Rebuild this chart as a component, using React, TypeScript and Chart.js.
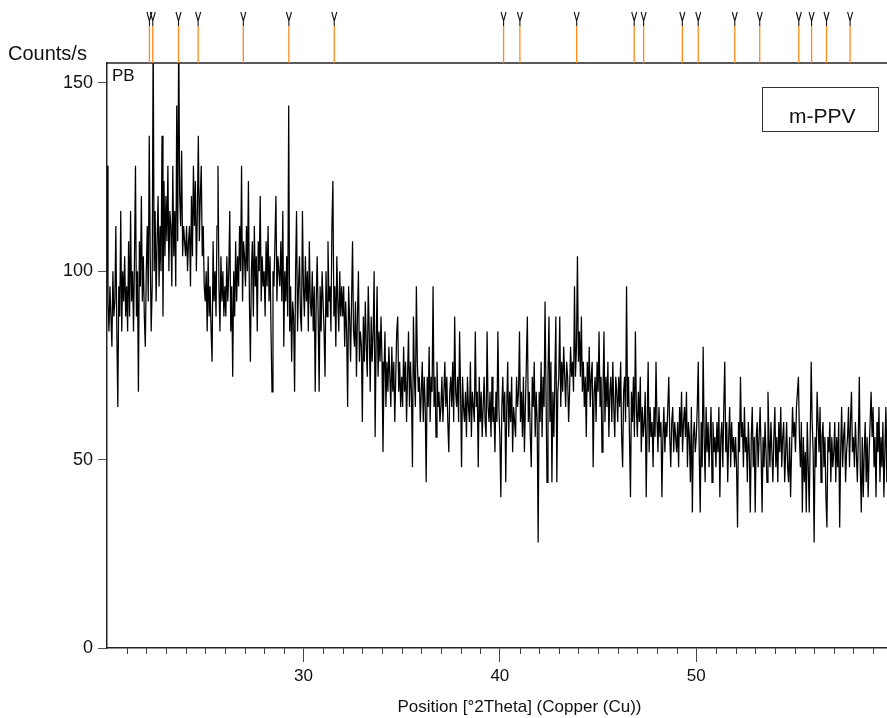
import React, { useEffect, useRef } from "react";
import { Chart, registerables } from "chart.js";

Chart.register(...registerables);

// scan grid (°2Theta)
const scanStart = 20;
const scanStep = 0.05;

// counts/s, one row per degree (20 samples each)
const counts20to30 = [
  128, 92, 84, 96, 88, 80, 100, 88, 92, 112, 84, 64, 96, 88, 116, 84, 100, 92, 104, 88,
  96, 84, 108, 88, 116, 92, 100, 84, 104, 128, 88, 100, 68, 108, 96, 120, 92, 104, 88, 80,
  100, 112, 92, 136, 104, 84, 96, 164, 100, 116, 92, 108, 120, 96, 112, 100, 136, 88, 124, 104,
  120, 108, 128, 100, 116, 112, 96, 128, 104, 116, 96, 144, 108, 164, 120, 112, 132, 104, 112, 108,
  104, 112, 100, 108, 112, 96, 120, 104, 128, 112, 124, 100, 116, 136, 108, 120, 128, 104, 112, 96,
  92, 100, 84, 104, 88, 96, 84, 76, 108, 92, 100, 88, 112, 128, 96, 84, 104, 92, 100, 88,
  96, 88, 104, 92, 100, 116, 84, 96, 72, 100, 88, 108, 92, 104, 96, 112, 100, 128, 92, 108,
  104, 96, 112, 100, 124, 92, 76, 100, 108, 88, 112, 96, 104, 84, 108, 100, 120, 92, 104, 96,
  100, 88, 108, 96, 112, 92, 104, 84, 68, 100, 96, 108, 120, 92, 104, 100, 96, 108, 92, 116,
  80, 100, 92, 104, 88, 144, 84, 96, 76, 92, 88, 68, 100, 116, 84, 96, 104, 88, 84, 116,
];
const counts30to40 = [
  96, 88, 104, 92, 100, 84, 108, 92, 88, 100, 84, 96, 68, 92, 104, 88, 68, 96, 84, 100,
  92, 84, 72, 100, 88, 108, 92, 96, 84, 112, 124, 88, 96, 80, 104, 92, 84, 100, 88, 96,
  88, 96, 80, 92, 84, 64, 96, 88, 76, 92, 108, 84, 80, 92, 72, 88, 100, 76, 84, 80,
  60, 88, 76, 92, 80, 72, 96, 84, 68, 88, 76, 84, 100, 56, 80, 96, 72, 84, 76, 88,
  76, 52, 72, 84, 64, 76, 68, 80, 72, 64, 80, 68, 76, 60, 72, 84, 88, 68, 76, 64,
  72, 64, 80, 68, 76, 60, 72, 84, 64, 76, 68, 48, 88, 72, 64, 96, 76, 68, 72, 60,
  68, 76, 60, 72, 64, 44, 72, 64, 80, 60, 72, 68, 96, 64, 72, 56, 76, 64, 68, 60,
  64, 72, 60, 68, 76, 64, 72, 60, 52, 68, 72, 64, 76, 60, 88, 68, 64, 72, 60, 84,
  68, 48, 72, 64, 60, 68, 56, 72, 64, 60, 76, 56, 68, 64, 60, 84, 64, 68, 48, 72,
  60, 68, 56, 64, 72, 60, 56, 84, 64, 60, 68, 56, 72, 60, 64, 52, 68, 60, 84, 64,
];
const counts40to50 = [
  56, 40, 64, 72, 60, 68, 44, 64, 76, 56, 68, 60, 72, 52, 64, 60, 56, 72, 64, 68,
  84, 60, 68, 56, 72, 52, 64, 76, 88, 60, 68, 56, 48, 72, 64, 76, 56, 68, 60, 28,
  68, 60, 76, 56, 72, 64, 92, 68, 44, 72, 88, 60, 76, 44, 68, 56, 72, 88, 44, 68,
  72, 88, 64, 76, 68, 80, 72, 64, 76, 72, 60, 68, 80, 72, 76, 68, 96, 72, 80, 104,
  76, 84, 72, 88, 68, 76, 64, 72, 56, 76, 68, 80, 64, 72, 76, 48, 68, 72, 60, 76,
  68, 84, 64, 72, 52, 68, 84, 60, 72, 64, 76, 56, 68, 72, 60, 76, 64, 56, 72, 68,
  60, 72, 64, 76, 56, 48, 68, 72, 60, 96, 64, 72, 56, 40, 68, 60, 72, 56, 84, 64,
  56, 68, 60, 72, 52, 64, 56, 60, 68, 40, 60, 76, 52, 64, 56, 60, 48, 64, 56, 76,
  60, 52, 64, 56, 60, 40, 56, 64, 52, 60, 56, 64, 72, 56, 48, 60, 64, 52, 60, 56,
  52, 60, 48, 64, 56, 68, 52, 60, 64, 56, 68, 48, 60, 56, 44, 64, 36, 56, 60, 52,
];
const counts50to60 = [
  56, 64, 76, 52, 36, 60, 48, 80, 56, 44, 64, 52, 60, 48, 56, 64, 44, 60, 52, 56,
  48, 60, 52, 64, 40, 56, 60, 48, 64, 76, 52, 60, 44, 56, 64, 48, 60, 52, 56, 48,
  56, 48, 32, 60, 52, 72, 56, 60, 48, 64, 52, 56, 44, 60, 52, 36, 56, 64, 48, 56,
  36, 56, 60, 48, 56, 64, 52, 36, 56, 48, 60, 52, 44, 68, 56, 48, 60, 52, 44, 56,
  64, 48, 56, 44, 60, 52, 64, 48, 56, 60, 44, 52, 60, 48, 44, 56, 40, 52, 64, 56,
  60, 52, 64, 68, 72, 56, 48, 60, 36, 56, 44, 52, 36, 60, 48, 36, 56, 76, 60, 52,
  28, 56, 48, 68, 60, 52, 64, 44, 56, 60, 48, 56, 40, 32, 56, 52, 60, 44, 56, 48,
  52, 60, 44, 56, 48, 60, 32, 52, 64, 48, 56, 60, 44, 52, 56, 64, 48, 60, 68, 52,
  56, 48, 60, 52, 44, 56, 72, 48, 36, 56, 40, 52, 60, 44, 56, 40, 52, 60, 68, 56,
  64, 48, 56, 40, 60, 52, 64, 44, 56, 48, 60, 40, 52, 64, 44, 68,
];

// reference pattern peak positions (°2Theta)
const refPeaks = [
  22.16, 22.33, 23.64, 24.64, 26.94, 29.26, 31.57, 40.19, 41.02, 43.91,
  46.84, 47.32, 49.29, 50.1, 51.96, 53.23, 55.22, 55.87, 56.63, 57.83,
];

const xMajorTicks = [30, 40, 50];
const yTicks = [0, 50, 100, 150];
const xMin = 20;
const xMax = 62;
const yMin = 0;
const yMax = 155.3;

const yUnit = "Counts/s";
const xTitle = "Position [°2Theta] (Copper (Cu))";
const cornerTag = "PB";
const sampleLabel = "m-PPV";

const FONT = '"Liberation Sans", Arial, Helvetica, sans-serif';

const overlay = {
  id: "xrdOverlay",
  afterDraw(chart: any) {
    const { ctx, chartArea: a, scales } = chart;
    const x = scales.x;
    ctx.save();

    // top frame line
    ctx.strokeStyle = "#222";
    ctx.lineWidth = 1.4;
    ctx.beginPath();
    ctx.moveTo(a.left, a.top);
    ctx.lineTo(a.right, a.top);
    ctx.stroke();

    // minor x ticks
    ctx.strokeStyle = "#444";
    ctx.lineWidth = 1;
    for (let v = Math.ceil(x.min); v <= x.max; v++) {
      if (v % 10 === 0) continue;
      const px = Math.round(x.getPixelForValue(v)) + 0.5;
      ctx.beginPath();
      ctx.moveTo(px, a.bottom);
      ctx.lineTo(px, a.bottom + 6);
      ctx.stroke();
    }

    // reference peak markers
    refPeaks.forEach((p) => {
      const px = x.getPixelForValue(p);
      ctx.strokeStyle = "#FF8A1C";
      ctx.lineWidth = 1.3;
      ctx.beginPath();
      ctx.moveTo(px, 26);
      ctx.lineTo(px, a.top);
      ctx.stroke();
      ctx.strokeStyle = "#111";
      ctx.lineWidth = 1.1;
      ctx.beginPath();
      ctx.moveTo(px - 2.5, 12);
      ctx.lineTo(px, 21);
      ctx.lineTo(px + 2.5, 12);
      ctx.moveTo(px, 20);
      ctx.lineTo(px, 26);
      ctx.stroke();
    });

    // texts
    ctx.fillStyle = "#111";
    ctx.textAlign = "left";
    ctx.textBaseline = "alphabetic";
    ctx.font = `20px ${FONT}`;
    ctx.fillText(yUnit, 8, 60);
    ctx.font = `17px ${FONT}`;
    ctx.fillText(cornerTag, a.left + 5, a.top + 18);

    // sample label box
    ctx.fillStyle = "#fff";
    ctx.fillRect(762, 87.5, 116, 44);
    ctx.strokeStyle = "#333";
    ctx.lineWidth = 1;
    ctx.strokeRect(762.5, 87.5, 116, 44);
    ctx.fillStyle = "#111";
    ctx.font = `21px ${FONT}`;
    ctx.fillText(sampleLabel, 789, 123);

    ctx.restore();
  },
};

export default function App() {
  const ref = useRef<HTMLCanvasElement | null>(null);

  useEffect(() => {
    if (!ref.current) return;
    const counts = [...counts20to30, ...counts30to40, ...counts40to50, ...counts50to60];
    const points = counts.map((c, i) => ({ x: scanStart + i * scanStep, y: c }));

    const chart = new Chart(ref.current, {
      type: "line",
      data: {
        datasets: [
          {
            data: points,
            borderColor: "#000",
            borderWidth: 1.25,
            pointRadius: 0,
            tension: 0,
            fill: false,
          },
        ],
      },
      options: {
        animation: false,
        responsive: false,
        maintainAspectRatio: false,
        layout: { padding: { top: 63, left: 0, right: 0, bottom: 0 } },
        plugins: { legend: { display: false }, tooltip: { enabled: false } },
        scales: {
          x: {
            type: "linear",
            min: xMin,
            max: xMax,
            afterBuildTicks: (s: any) => {
              s.ticks = xMajorTicks.map((v) => ({ value: v }));
            },
            afterFit: (s: any) => {
              s.height = 70;
            },
            grid: { drawOnChartArea: false, drawTicks: true, tickLength: 14, color: "#444", lineWidth: 1 },
            border: { display: true, color: "#222", width: 1.5 },
            ticks: { font: { size: 17, family: FONT }, color: "#111", padding: 4, maxRotation: 0, autoSkip: false },
            title: {
              display: true,
              text: xTitle,
              font: { size: 17, family: FONT },
              color: "#111",
              padding: { top: 0, bottom: 0 },
            },
          },
          y: {
            type: "linear",
            min: yMin,
            max: yMax,
            afterBuildTicks: (s: any) => {
              s.ticks = yTicks.map((v) => ({ value: v }));
            },
            afterFit: (s: any) => {
              s.width = 107;
            },
            grid: { drawOnChartArea: false, drawTicks: true, tickLength: 9, color: "#555", lineWidth: 1 },
            border: { display: true, color: "#222", width: 1.5 },
            ticks: { font: { size: 18, family: FONT }, color: "#111", padding: 5 },
          },
        },
      },
      plugins: [overlay],
    });
    return () => chart.destroy();
  }, []);

  return (
    <div style={{ position: "fixed", left: 0, top: 0, width: 887, height: 718, overflow: "hidden", background: "#fff" }}>
      <canvas ref={ref} width={932} height={718} style={{ display: "block", width: 932, height: 718 }} />
    </div>
  );
}
